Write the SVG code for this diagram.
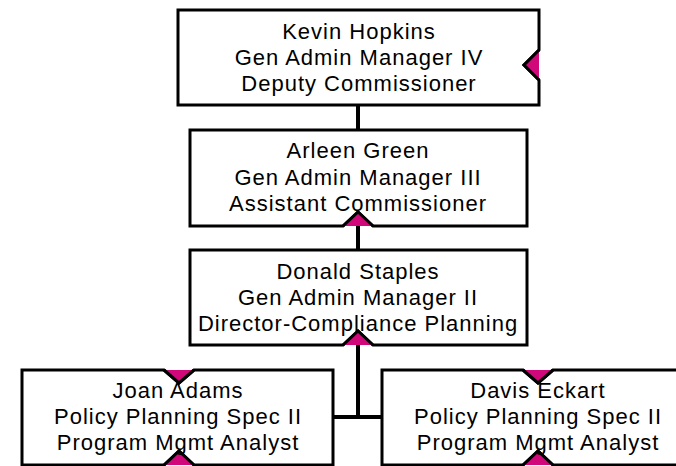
<svg xmlns="http://www.w3.org/2000/svg" width="676" height="466" viewBox="0 0 676 466">
<style>
.box{fill:#fff;stroke:#000;stroke-width:3;stroke-linejoin:miter}
.pink{fill:#d0087a}
.conn{stroke:#000;stroke-width:4;fill:none}
text{font-family:"Liberation Sans",Arial,sans-serif;font-size:22px;letter-spacing:1px;fill:#000;text-anchor:middle}
</style>
<rect width="676" height="466" fill="#fff"/>
<g id="connectors">
<line class="conn" x1="358" y1="105" x2="358" y2="130"/>
<line class="conn" x1="358" y1="226" x2="358" y2="250"/>
<line class="conn" x1="358" y1="345" x2="358" y2="417"/>
<line class="conn" x1="333" y1="417" x2="382" y2="417"/>
</g>
<g id="kevin">
<path class="box" d="M178,10 H539 V50 L524,65 L539,80 V105 H178 Z"/>
<polygon class="pink" points="539,50 524,65 539,80"/>
<path d="M539,50 L524,65 L539,80" fill="none" stroke="#000" stroke-width="3"/>
<text x="359" y="39">Kevin Hopkins</text>
<text x="359" y="65">Gen Admin Manager IV</text>
<text x="359" y="91">Deputy Commissioner</text>
</g>
<g id="arleen">
<path class="box" d="M190,130 H527 V226 H373 L358,212 L343,226 H190 Z"/>
<polygon class="pink" points="343,226 358,212 373,226"/>
<path d="M343,226 L358,212 L373,226" fill="none" stroke="#000" stroke-width="3"/>
<text x="358" y="158">Arleen Green</text>
<text x="358" y="185">Gen Admin Manager III</text>
<text x="358" y="211">Assistant Commissioner</text>
</g>
<g id="donald">
<path class="box" d="M190,250 H527 V345 H373 L358,331 L343,345 H190 Z"/>
<polygon class="pink" points="343,345 358,331 373,345"/>
<path d="M343,345 L358,331 L373,345" fill="none" stroke="#000" stroke-width="3"/>
<text x="358" y="279">Donald Staples</text>
<text x="358" y="305">Gen Admin Manager II</text>
<text x="358" y="331">Director-Compliance Planning</text>
</g>
<g id="joan">
<path class="box" d="M22,370 H164 L179,383 L194,370 H333 V465 H194 L179,451 L164,465 H22 Z"/>
<polygon class="pink" points="164,370 179,383 194,370"/>
<polygon class="pink" points="164,465 179,451 194,465"/>
<path d="M164,370 L179,383 L194,370 M164,465 L179,451 L194,465" fill="none" stroke="#000" stroke-width="3"/>
<text x="178" y="398">Joan Adams</text>
<text x="178" y="424">Policy Planning Spec II</text>
<text x="178" y="450">Program Mgmt Analyst</text>
</g>
<g id="davis">
<path class="box" d="M382,370 H523 L538,383 L553,370 H694 V465 H553 L538,451 L523,465 H382 Z"/>
<polygon class="pink" points="523,370 538,383 553,370"/>
<polygon class="pink" points="523,465 538,451 553,465"/>
<path d="M523,370 L538,383 L553,370 M523,465 L538,451 L553,465" fill="none" stroke="#000" stroke-width="3"/>
<text x="538" y="398">Davis Eckart</text>
<text x="538" y="424">Policy Planning Spec II</text>
<text x="538" y="450">Program Mgmt Analyst</text>
</g>
</svg>
